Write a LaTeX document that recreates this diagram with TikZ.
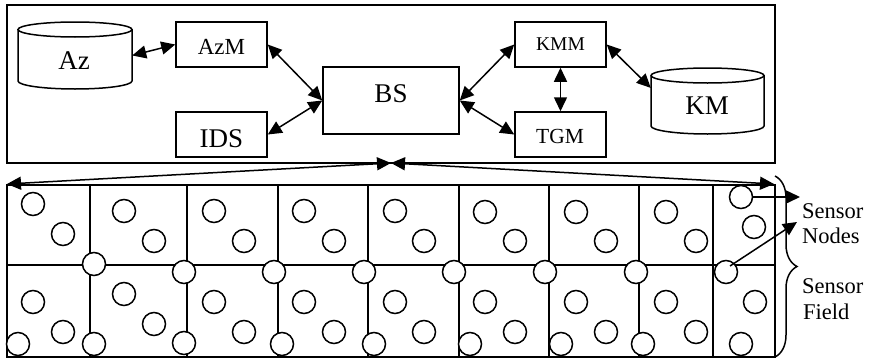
\documentclass[tikz,border=0pt]{standalone}
\usepackage{fontspec}
\setmainfont{Liberation Serif}
\usetikzlibrary{arrows.meta,decorations.pathreplacing,calc}
\begin{document}
\begin{tikzpicture}[x=1pt,y=-1pt,
  lw/.style={line width=1.5pt},
  box/.style={draw,lw,rectangle,inner sep=0pt,minimum width=91pt,minimum height=45pt},
  ghost/.style={rectangle,inner sep=0pt},
  txt/.style={inner sep=0pt,anchor=base},
  big/.style={txt,font=\fontsize{27}{30}\selectfont},
  small/.style={txt,font=\fontsize{#1}{#1}\selectfont},
  side/.style={inner sep=0pt,anchor=base west,font=\fontsize{22.5}{24}\selectfont},
  tip/.tip={Triangle[length=14pt,width=13pt]},
  arr/.style={lw,tip-tip},
  arrone/.style={lw,-tip},
  sn/.style={circle,draw,lw,fill=white,minimum size=23pt,inner sep=0pt}
]
\useasboundingbox (0,0) rectangle (875,359);

% top frame
\draw[lw] (7,5) rectangle (775,163);

% cylinders
\draw[lw,fill=white] (18,29.5) -- (18,81) arc[start angle=180,end angle=360,x radius=57pt,y radius=8pt] -- (132,29.5);
\draw[lw] (75,29.5) ellipse [x radius=57pt,y radius=7.5pt];
\node[ghost,minimum width=114pt,minimum height=67pt] (az) at (75,55.5) {};
\node[big] (aztxt) at (74,69) {Az};

\draw[lw,fill=white] (651,75.5) -- (651,126) arc[start angle=180,end angle=360,x radius=56.5pt,y radius=8pt] -- (764,75.5);
\draw[lw] (707.5,75.5) ellipse [x radius=56.5pt,y radius=7.5pt];
\node[ghost,minimum width=113pt,minimum height=66pt] (km) at (707.5,101) {};
\node[big] (kmtxt) at (707,114) {KM};

% boxes
\node[box] (azm) at (221.5,44.5) {};
\node[box] (ids) at (221.5,134.5) {};
\node[box,minimum width=136pt,minimum height=67pt] (bs) at (391,100.5) {};
\node[box] (kmm) at (560.5,44.5) {};
\node[box] (tgm) at (560.5,134.5) {};

\node[small=23] (azmtxt) at (221.5,54) {AzM};
\node[big] (idstxt) at (221.5,147) {IDS};
\node[big] (bstxt) at (391,102) {BS};
\node[small=19.5] (kmmtxt) at (560.5,50) {KMM};
\node[small=21.5] (tgmtxt) at (560,143) {TGM};

% connectors (top)
\draw[arr] (az.east) -- (azm.west);
\draw[arr] (azm.east) -- (bs.west);
\draw[arr] (ids.east) -- (bs.west);
\draw[arr] (bs.east) -- (kmm.west);
\draw[arr] (bs.east) -- (tgm.west);
\draw[arr] (kmm.south) -- (tgm.north);
\draw[arr] (kmm.east) -- (km.167);

% sensor field grid
\draw[lw] (7,185) rectangle (775,357);
\draw[lw] (7,265) -- (775,265);
\foreach \x in {90,187,278,368,459,549,639,713} \draw[lw] (\x,185) -- (\x,357);

% field arrows
\coordinate (mid) at (391,163);
\coordinate (gl) at (7,184);
\coordinate (gr) at (774,184);
\draw[arr] (gl) -- (mid);
\draw[arr] (mid) -- (gr);

% sensor nodes
\foreach \n/\x/\y in {
 a1/33/204,a2/63/234,a3/124/211,a4/154/241,a5/214/211,a6/244/241,a7/304/211,a8/334/241,
 a9/395/211,a10/424/241,a11/485/212,a12/515/241,a13/576/212,a14/606/241,a15/666/212,a16/696/241,
 a17/741/197,a18/754/227,
 m1/94/264,m2/184/272,m3/274/272,m4/364/272,m5/454/272,m6/545/272,m7/636/272,m8/726/272,
 b1/33/302,b2/63/332,b3/124/294,b4/154/324,b5/214/302,b6/244/332,b7/304/302,b8/334/332,
 b9/395/302,b10/424/332,b11/485/302,b12/515/332,b13/576/302,b14/606/332,b15/666/302,b16/696/332,
 b17/755/302,
 c1/18/344,c2/94/344,c3/184/343,c4/282/344,c5/374/344,c6/470/344,c7/561/344,c8/643/344,c9/741/344}
 \node[sn] (\n) at (\x,\y) {};

% brace and labels
\draw[lw,decorate,decoration={brace,amplitude=22pt}] (775,176) -- (775,357);
\coordinate (snA) at (800,197);
\coordinate (snB) at (797,222);
\draw[arrone] (a17.east) -- (snA);
\draw[arrone] ($(m8.center)+(4,-6)$) -- (snB);
\node[side] (l1) at (802,218) {Sensor};
\node[side] (l2) at (802,243) {Nodes};
\node[side] (l3) at (802,293) {Sensor};
\node[side] (l4) at (803,319) {Field};
\end{tikzpicture}
\end{document}
